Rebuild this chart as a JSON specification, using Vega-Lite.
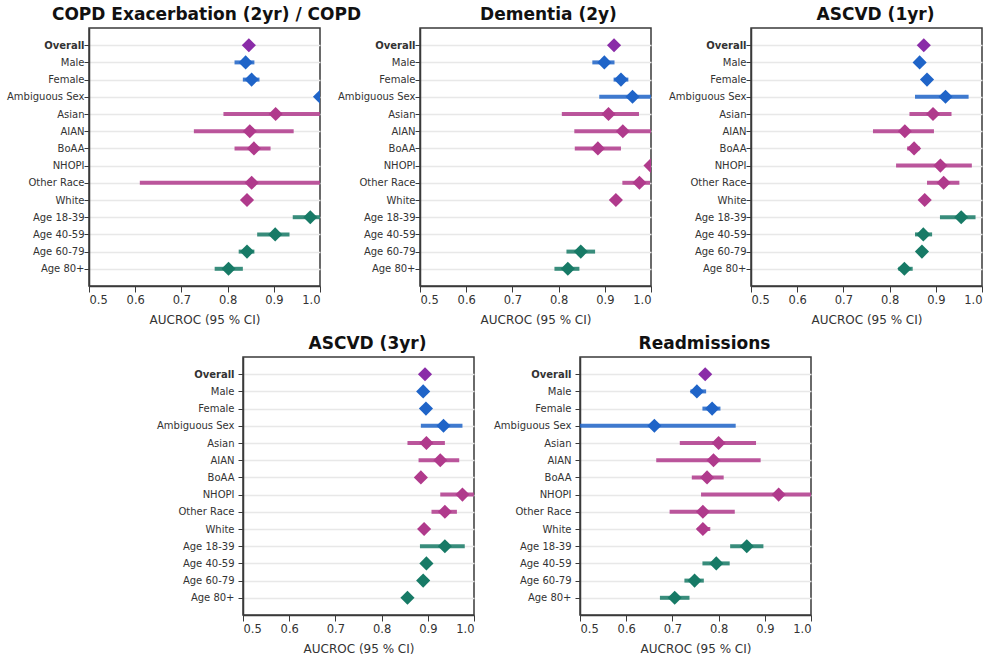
{
  "$schema": "https://vega.github.io/schema/vega-lite/v6.json",
  "background": "white",
  "padding": 5,
  "bounds": "full",
  "spacing": 7,
  "config": {
    "font": "DejaVu Sans",
    "view": {"stroke": "#3a3a3a", "strokeWidth": 1.5},
    "axis": {"labelFont": "DejaVu Sans", "titleFont": "DejaVu Sans", "labelColor": "#333", "titleColor": "#333", "domainColor": "#3a3a3a", "tickColor": "#3a3a3a", "domainWidth": 1.5},
    "title": {"font": "DejaVu Sans", "fontSize": 17, "fontWeight": "bold", "color": "#111", "offset": 4}
  },
  "datasets": {
    "copd": [
      {"subgroup": "Overall", "group": "Overall", "auc": 0.846, "lo": 0.840, "hi": 0.852},
      {"subgroup": "Male", "group": "Sex", "auc": 0.839, "lo": 0.815, "hi": 0.858},
      {"subgroup": "Female", "group": "Sex", "auc": 0.852, "lo": 0.833, "hi": 0.869},
      {"subgroup": "Ambiguous Sex", "group": "Sex", "auc": 1.0, "lo": 1.0, "hi": 1.0},
      {"subgroup": "Asian", "group": "Race", "auc": 0.904, "lo": 0.791, "hi": 1.0},
      {"subgroup": "AIAN", "group": "Race", "auc": 0.848, "lo": 0.727, "hi": 0.943},
      {"subgroup": "BoAA", "group": "Race", "auc": 0.857, "lo": 0.815, "hi": 0.893},
      {"subgroup": "Other Race", "group": "Race", "auc": 0.852, "lo": 0.610, "hi": 1.0},
      {"subgroup": "White", "group": "Race", "auc": 0.842, "lo": 0.835, "hi": 0.849},
      {"subgroup": "Age 18-39", "group": "Age", "auc": 0.979, "lo": 0.941, "hi": 1.0},
      {"subgroup": "Age 40-59", "group": "Age", "auc": 0.903, "lo": 0.864, "hi": 0.934},
      {"subgroup": "Age 60-79", "group": "Age", "auc": 0.842, "lo": 0.824, "hi": 0.858},
      {"subgroup": "Age 80+", "group": "Age", "auc": 0.802, "lo": 0.772, "hi": 0.833}
    ],
    "dementia": [
      {"subgroup": "Overall", "group": "Overall", "auc": 0.920, "lo": 0.914, "hi": 0.926},
      {"subgroup": "Male", "group": "Sex", "auc": 0.899, "lo": 0.873, "hi": 0.921},
      {"subgroup": "Female", "group": "Sex", "auc": 0.935, "lo": 0.919, "hi": 0.951},
      {"subgroup": "Ambiguous Sex", "group": "Sex", "auc": 0.960, "lo": 0.888, "hi": 1.0},
      {"subgroup": "Asian", "group": "Race", "auc": 0.908, "lo": 0.807, "hi": 0.974},
      {"subgroup": "AIAN", "group": "Race", "auc": 0.939, "lo": 0.834, "hi": 1.0},
      {"subgroup": "BoAA", "group": "Race", "auc": 0.885, "lo": 0.835, "hi": 0.935},
      {"subgroup": "NHOPI", "group": "Race", "auc": 0.999, "lo": 0.999, "hi": 1.0},
      {"subgroup": "Other Race", "group": "Race", "auc": 0.975, "lo": 0.938, "hi": 0.998},
      {"subgroup": "White", "group": "Race", "auc": 0.924, "lo": 0.918, "hi": 0.930},
      {"subgroup": "Age 60-79", "group": "Age", "auc": 0.848, "lo": 0.817, "hi": 0.879},
      {"subgroup": "Age 80+", "group": "Age", "auc": 0.820, "lo": 0.791, "hi": 0.845}
    ],
    "ascvd1": [
      {"subgroup": "Overall", "group": "Overall", "auc": 0.874, "lo": 0.868, "hi": 0.880},
      {"subgroup": "Male", "group": "Sex", "auc": 0.865, "lo": 0.858, "hi": 0.872},
      {"subgroup": "Female", "group": "Sex", "auc": 0.881, "lo": 0.874, "hi": 0.888},
      {"subgroup": "Ambiguous Sex", "group": "Sex", "auc": 0.921, "lo": 0.855, "hi": 0.971},
      {"subgroup": "Asian", "group": "Race", "auc": 0.894, "lo": 0.843, "hi": 0.934},
      {"subgroup": "AIAN", "group": "Race", "auc": 0.833, "lo": 0.764, "hi": 0.896},
      {"subgroup": "BoAA", "group": "Race", "auc": 0.853, "lo": 0.838, "hi": 0.865},
      {"subgroup": "NHOPI", "group": "Race", "auc": 0.910, "lo": 0.814, "hi": 0.978},
      {"subgroup": "Other Race", "group": "Race", "auc": 0.917, "lo": 0.881, "hi": 0.951},
      {"subgroup": "White", "group": "Race", "auc": 0.876, "lo": 0.870, "hi": 0.882},
      {"subgroup": "Age 18-39", "group": "Age", "auc": 0.955, "lo": 0.909, "hi": 0.986},
      {"subgroup": "Age 40-59", "group": "Age", "auc": 0.873, "lo": 0.855, "hi": 0.892},
      {"subgroup": "Age 60-79", "group": "Age", "auc": 0.870, "lo": 0.863, "hi": 0.877},
      {"subgroup": "Age 80+", "group": "Age", "auc": 0.832, "lo": 0.819, "hi": 0.850}
    ],
    "ascvd3": [
      {"subgroup": "Overall", "group": "Overall", "auc": 0.894, "lo": 0.889, "hi": 0.899},
      {"subgroup": "Male", "group": "Sex", "auc": 0.890, "lo": 0.884, "hi": 0.896},
      {"subgroup": "Female", "group": "Sex", "auc": 0.896, "lo": 0.890, "hi": 0.902},
      {"subgroup": "Ambiguous Sex", "group": "Sex", "auc": 0.934, "lo": 0.885, "hi": 0.975},
      {"subgroup": "Asian", "group": "Race", "auc": 0.897, "lo": 0.856, "hi": 0.937},
      {"subgroup": "AIAN", "group": "Race", "auc": 0.927, "lo": 0.880, "hi": 0.968},
      {"subgroup": "BoAA", "group": "Race", "auc": 0.885, "lo": 0.879, "hi": 0.891},
      {"subgroup": "NHOPI", "group": "Race", "auc": 0.975, "lo": 0.927, "hi": 1.0},
      {"subgroup": "Other Race", "group": "Race", "auc": 0.937, "lo": 0.908, "hi": 0.963},
      {"subgroup": "White", "group": "Race", "auc": 0.892, "lo": 0.886, "hi": 0.898},
      {"subgroup": "Age 18-39", "group": "Age", "auc": 0.937, "lo": 0.883, "hi": 0.980},
      {"subgroup": "Age 40-59", "group": "Age", "auc": 0.897, "lo": 0.890, "hi": 0.904},
      {"subgroup": "Age 60-79", "group": "Age", "auc": 0.890, "lo": 0.884, "hi": 0.896},
      {"subgroup": "Age 80+", "group": "Age", "auc": 0.856, "lo": 0.850, "hi": 0.862}
    ],
    "readm": [
      {"subgroup": "Overall", "group": "Overall", "auc": 0.771, "lo": 0.765, "hi": 0.777},
      {"subgroup": "Male", "group": "Sex", "auc": 0.753, "lo": 0.739, "hi": 0.773},
      {"subgroup": "Female", "group": "Sex", "auc": 0.786, "lo": 0.765, "hi": 0.804},
      {"subgroup": "Ambiguous Sex", "group": "Sex", "auc": 0.661, "lo": 0.5, "hi": 0.837},
      {"subgroup": "Asian", "group": "Race", "auc": 0.800, "lo": 0.716, "hi": 0.881},
      {"subgroup": "AIAN", "group": "Race", "auc": 0.789, "lo": 0.665, "hi": 0.891},
      {"subgroup": "BoAA", "group": "Race", "auc": 0.775, "lo": 0.742, "hi": 0.811},
      {"subgroup": "NHOPI", "group": "Race", "auc": 0.930, "lo": 0.762, "hi": 1.0},
      {"subgroup": "Other Race", "group": "Race", "auc": 0.766, "lo": 0.694, "hi": 0.835},
      {"subgroup": "White", "group": "Race", "auc": 0.766, "lo": 0.755, "hi": 0.782},
      {"subgroup": "Age 18-39", "group": "Age", "auc": 0.861, "lo": 0.825, "hi": 0.897},
      {"subgroup": "Age 40-59", "group": "Age", "auc": 0.795, "lo": 0.765, "hi": 0.824},
      {"subgroup": "Age 60-79", "group": "Age", "auc": 0.748, "lo": 0.726, "hi": 0.768},
      {"subgroup": "Age 80+", "group": "Age", "auc": 0.705, "lo": 0.673, "hi": 0.737}
    ]
  },
  "vconcat": [
    {
      "bounds": "flush",
      "spacing": 100,
      "hconcat": [
        {
          "title": {"text": "COPD Exacerbation (2yr) / COPD", "frame": "group", "anchor": "middle", "dx": 2},
          "data": {"name": "copd"},
          "width": 231, "height": 258,
          "encoding": {
            "y": {"field": "subgroup", "type": "nominal", "scale": {"type": "point", "padding": 1, "domain": ["Overall", "Male", "Female", "Ambiguous Sex", "Asian", "AIAN", "BoAA", "NHOPI", "Other Race", "White", "Age 18-39", "Age 40-59", "Age 60-79", "Age 80+"]}, "axis": {"title": null, "labelFontSize": 10, "tickSize": 5, "labelPadding": 0, "grid": true, "gridColor": "#e8e8e8", "gridWidth": 1.5, "labelFontWeight": {"condition": {"test": "datum.value === 'Overall'", "value": "bold"}, "value": "normal"}}},
            "color": {"field": "group", "type": "nominal", "scale": {"domain": ["Overall", "Sex", "Race", "Age"], "range": ["#8a2ca8", "#1f64c8", "#b03a8c", "#177a66"]}, "legend": null}
          },
          "layer": [
            {"mark": {"type": "rule", "strokeWidth": 4, "opacity": 0.85, "clip": true}, "encoding": {"x": {"field": "lo", "type": "quantitative", "scale": {"domain": [0.5, 1.0], "nice": false, "zero": false}, "axis": {"title": "AUCROC (95 % CI)", "values": [0.5, 0.6, 0.7, 0.8, 0.9, 1.0], "format": ".1f", "labelFontSize": 11.5, "titleFontSize": 12, "titleFontWeight": "normal", "grid": false, "tickSize": 6, "titlePadding": 9}}, "x2": {"field": "hi"}}},
            {"mark": {"type": "point", "shape": "diamond", "filled": true, "size": 200, "opacity": 1, "clip": true}, "encoding": {"x": {"field": "auc", "type": "quantitative"}}}
          ]
        },
        {
          "title": {"text": "Dementia (2y)", "frame": "group", "anchor": "middle", "dx": 13},
          "data": {"name": "dementia"},
          "width": 231, "height": 258,
          "encoding": {
            "y": {"field": "subgroup", "type": "nominal", "scale": {"type": "point", "padding": 1, "domain": ["Overall", "Male", "Female", "Ambiguous Sex", "Asian", "AIAN", "BoAA", "NHOPI", "Other Race", "White", "Age 18-39", "Age 40-59", "Age 60-79", "Age 80+"]}, "axis": {"title": null, "labelFontSize": 10, "tickSize": 5, "labelPadding": 0, "grid": true, "gridColor": "#e8e8e8", "gridWidth": 1.5, "labelFontWeight": {"condition": {"test": "datum.value === 'Overall'", "value": "bold"}, "value": "normal"}}},
            "color": {"field": "group", "type": "nominal", "scale": {"domain": ["Overall", "Sex", "Race", "Age"], "range": ["#8a2ca8", "#1f64c8", "#b03a8c", "#177a66"]}, "legend": null}
          },
          "layer": [
            {"mark": {"type": "rule", "strokeWidth": 4, "opacity": 0.85, "clip": true}, "encoding": {"x": {"field": "lo", "type": "quantitative", "scale": {"domain": [0.5, 1.0], "nice": false, "zero": false}, "axis": {"title": "AUCROC (95 % CI)", "values": [0.5, 0.6, 0.7, 0.8, 0.9, 1.0], "format": ".1f", "labelFontSize": 11.5, "titleFontSize": 12, "titleFontWeight": "normal", "grid": false, "tickSize": 6, "titlePadding": 9}}, "x2": {"field": "hi"}}},
            {"mark": {"type": "point", "shape": "diamond", "filled": true, "size": 200, "opacity": 1, "clip": true}, "encoding": {"x": {"field": "auc", "type": "quantitative"}}}
          ]
        },
        {
          "title": {"text": "ASCVD (1yr)", "frame": "group", "anchor": "middle", "dx": 9},
          "data": {"name": "ascvd1"},
          "width": 231, "height": 258,
          "encoding": {
            "y": {"field": "subgroup", "type": "nominal", "scale": {"type": "point", "padding": 1, "domain": ["Overall", "Male", "Female", "Ambiguous Sex", "Asian", "AIAN", "BoAA", "NHOPI", "Other Race", "White", "Age 18-39", "Age 40-59", "Age 60-79", "Age 80+"]}, "axis": {"title": null, "labelFontSize": 10, "tickSize": 5, "labelPadding": 0, "grid": true, "gridColor": "#e8e8e8", "gridWidth": 1.5, "labelFontWeight": {"condition": {"test": "datum.value === 'Overall'", "value": "bold"}, "value": "normal"}}},
            "color": {"field": "group", "type": "nominal", "scale": {"domain": ["Overall", "Sex", "Race", "Age"], "range": ["#8a2ca8", "#1f64c8", "#b03a8c", "#177a66"]}, "legend": null}
          },
          "layer": [
            {"mark": {"type": "rule", "strokeWidth": 4, "opacity": 0.85, "clip": true}, "encoding": {"x": {"field": "lo", "type": "quantitative", "scale": {"domain": [0.5, 1.0], "nice": false, "zero": false}, "axis": {"title": "AUCROC (95 % CI)", "values": [0.5, 0.6, 0.7, 0.8, 0.9, 1.0], "format": ".1f", "labelFontSize": 11.5, "titleFontSize": 12, "titleFontWeight": "normal", "grid": false, "tickSize": 6, "titlePadding": 9}}, "x2": {"field": "hi"}}},
            {"mark": {"type": "point", "shape": "diamond", "filled": true, "size": 200, "opacity": 1, "clip": true}, "encoding": {"x": {"field": "auc", "type": "quantitative"}}}
          ]
        }
      ]
    },
    {
      "bounds": "flush",
      "spacing": 106,
      "hconcat": [
        {
          "width": 48, "height": 258,
          "data": {"values": []},
          "mark": "point",
          "view": {"stroke": null}
        },
        {
          "title": {"text": "ASCVD (3yr)", "frame": "group", "anchor": "middle", "dx": 9},
          "data": {"name": "ascvd3"},
          "width": 231, "height": 258,
          "encoding": {
            "y": {"field": "subgroup", "type": "nominal", "scale": {"type": "point", "padding": 1, "domain": ["Overall", "Male", "Female", "Ambiguous Sex", "Asian", "AIAN", "BoAA", "NHOPI", "Other Race", "White", "Age 18-39", "Age 40-59", "Age 60-79", "Age 80+"]}, "axis": {"title": null, "labelFontSize": 10, "tickSize": 5, "labelPadding": 4, "grid": true, "gridColor": "#e8e8e8", "gridWidth": 1.5, "labelFontWeight": {"condition": {"test": "datum.value === 'Overall'", "value": "bold"}, "value": "normal"}}},
            "color": {"field": "group", "type": "nominal", "scale": {"domain": ["Overall", "Sex", "Race", "Age"], "range": ["#8a2ca8", "#1f64c8", "#b03a8c", "#177a66"]}, "legend": null}
          },
          "layer": [
            {"mark": {"type": "rule", "strokeWidth": 4, "opacity": 0.85, "clip": true}, "encoding": {"x": {"field": "lo", "type": "quantitative", "scale": {"domain": [0.5, 1.0], "nice": false, "zero": false}, "axis": {"title": "AUCROC (95 % CI)", "values": [0.5, 0.6, 0.7, 0.8, 0.9, 1.0], "format": ".1f", "labelFontSize": 11.5, "titleFontSize": 12, "titleFontWeight": "normal", "grid": false, "tickSize": 6, "titlePadding": 9}}, "x2": {"field": "hi"}}},
            {"mark": {"type": "point", "shape": "diamond", "filled": true, "size": 200, "opacity": 1, "clip": true}, "encoding": {"x": {"field": "auc", "type": "quantitative"}}}
          ]
        },
        {
          "title": {"text": "Readmissions", "frame": "group", "anchor": "middle", "dx": 9},
          "data": {"name": "readm"},
          "width": 231, "height": 258,
          "encoding": {
            "y": {"field": "subgroup", "type": "nominal", "scale": {"type": "point", "padding": 1, "domain": ["Overall", "Male", "Female", "Ambiguous Sex", "Asian", "AIAN", "BoAA", "NHOPI", "Other Race", "White", "Age 18-39", "Age 40-59", "Age 60-79", "Age 80+"]}, "axis": {"title": null, "labelFontSize": 10, "tickSize": 5, "labelPadding": 4, "grid": true, "gridColor": "#e8e8e8", "gridWidth": 1.5, "labelFontWeight": {"condition": {"test": "datum.value === 'Overall'", "value": "bold"}, "value": "normal"}}},
            "color": {"field": "group", "type": "nominal", "scale": {"domain": ["Overall", "Sex", "Race", "Age"], "range": ["#8a2ca8", "#1f64c8", "#b03a8c", "#177a66"]}, "legend": null}
          },
          "layer": [
            {"mark": {"type": "rule", "strokeWidth": 4, "opacity": 0.85, "clip": true}, "encoding": {"x": {"field": "lo", "type": "quantitative", "scale": {"domain": [0.5, 1.0], "nice": false, "zero": false}, "axis": {"title": "AUCROC (95 % CI)", "values": [0.5, 0.6, 0.7, 0.8, 0.9, 1.0], "format": ".1f", "labelFontSize": 11.5, "titleFontSize": 12, "titleFontWeight": "normal", "grid": false, "tickSize": 6, "titlePadding": 9}}, "x2": {"field": "hi"}}},
            {"mark": {"type": "point", "shape": "diamond", "filled": true, "size": 200, "opacity": 1, "clip": true}, "encoding": {"x": {"field": "auc", "type": "quantitative"}}}
          ]
        }
      ]
    }
  ]
}
